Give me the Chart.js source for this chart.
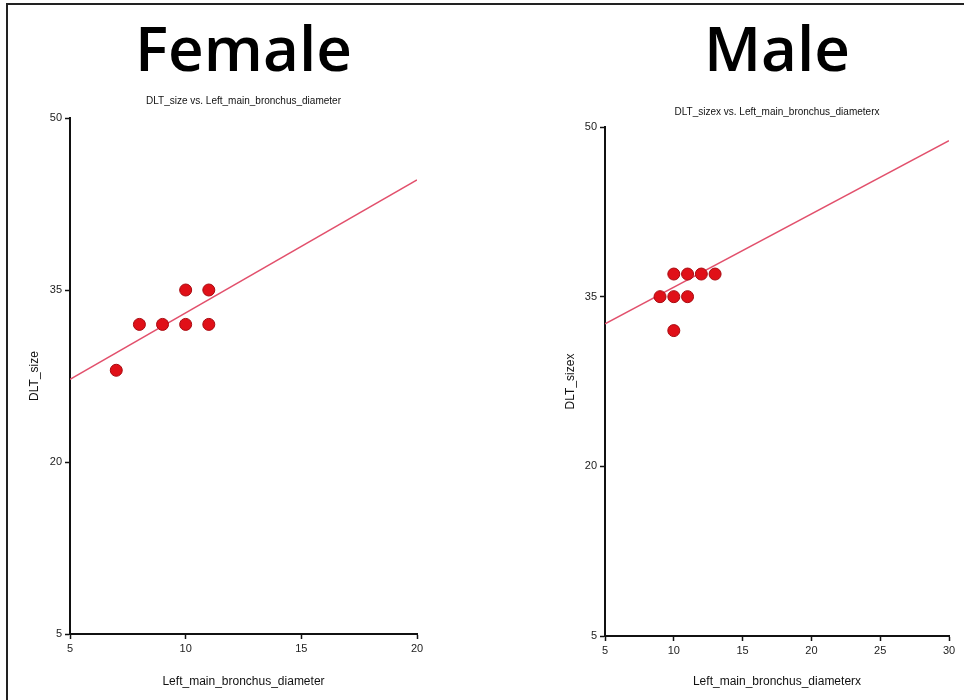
<!DOCTYPE html>
<html>
<head>
<meta charset="utf-8">
<script src="https://cdn.jsdelivr.net/npm/chart.js@4.4.0/dist/chart.umd.min.js"></script>
<style>
    body { margin: 0; background: #fff; }
    #frame { position: absolute; left: 6px; top: 3px; width: 960px; height: 700px; border-top: 2px solid #222; border-left: 2px solid #222; }
    #female { position: absolute; left: 0; top: 0; }
    #male { position: absolute; left: 484px; top: 0; }
</style>
</head>
<body>
<div id="frame"></div>
<canvas id="female" width="480" height="700"></canvas>
<canvas id="male" width="480" height="700"></canvas>
<script>
// Female data
const femaleX = [7, 8, 9, 10, 10, 11, 11];
const femaleY = [28, 32, 32, 32, 35, 32, 35];
const femaleFitX = [5, 20];
const femaleFitY = [27.2, 44.6];

// Male data
const maleX = [9, 10, 11, 10, 11, 12, 13, 10];
const maleY = [35, 35, 35, 37, 37, 37, 37, 32];
const maleFitX = [5, 30];
const maleFitY = [32.6, 48.8];

const yTicks = [5, 20, 35, 50];

function toPoints(xs, ys) {
    return xs.map((x, i) => ({ x: x, y: ys[i] }));
}

const tickFont = { family: "'Liberation Sans Narrow', 'Liberation Sans', Arial", size: 11 };

function makeChart(el, o) {
    return new Chart(el, {
        type: 'scatter',
        data: {
            datasets: [{
                    label: 'data',
                    data: toPoints(o.x, o.y),
                    backgroundColor: '#e01018',
                    borderColor: '#a80a10',
                    borderWidth: 1,
                    pointRadius: 6,
                    order: 1
                },
                {
                    label: 'fit',
                    data: toPoints(o.fitX, o.fitY),
                    showLine: true,
                    pointRadius: 0,
                    borderColor: '#e2506c',
                    borderWidth: 1.5,
                    order: 2
                },
            ]
        },
        options: {
            responsive: false,
            animation: false,
            layout: { padding: o.padding },
            plugins: {
                legend: { display: false },
                tooltip: { enabled: false },
                title: {
                    display: true,
                    text: o.title,
                    fullSize: false,
                    color: '#000',
                    font: { family: "'Open Sans'", size: 62, weight: '600', lineHeight: 1 },
                    padding: { top: 22, bottom: o.titleGap }
                },
                subtitle: {
                    display: true,
                    text: o.subtitle,
                    fullSize: false,
                    color: '#111',
                    font: { family: "'Liberation Sans Narrow', Arial", size: 10, lineHeight: 1.2 },
                    padding: { top: 0, bottom: o.subGap }
                }
            },
            scales: {
                x: {
                    type: 'linear',
                    min: 5,
                    max: o.xMax,
                    afterFit: s => { s.height = o.xHeight; },
                    ticks: { stepSize: 5, color: '#222', font: tickFont, padding: 3 },
                    grid: { drawOnChartArea: false, tickLength: 5, tickColor: '#111', tickWidth: 1.5 },
                    border: { color: '#111', width: 2 },
                    title: {
                        display: true,
                        text: o.xTitle,
                        color: '#111',
                        font: { family: "'Liberation Sans Narrow', Arial", size: 12 },
                        padding: { bottom: 11 }
                    }
                },
                y: {
                    type: 'linear',
                    min: 5,
                    max: 50,
                    afterFit: s => { s.width = o.yWidth; },
                    afterBuildTicks: s => { s.ticks = yTicks.map(v => ({ value: v })); },
                    ticks: { color: '#222', font: tickFont, padding: 3 },
                    grid: { drawOnChartArea: false, tickLength: 5, tickColor: '#111', tickWidth: 1.5 },
                    border: { color: '#111', width: 2 },
                    title: {
                        display: true,
                        text: o.yTitle,
                        color: '#111',
                        font: { family: "'Liberation Sans', Arial", size: 12 },
                        padding: { top: o.yTitlePad }
                    }
                }
            }
        }
    });
}

const femaleChart = makeChart(document.getElementById('female'), {
    x: femaleX, y: femaleY, fitX: femaleFitX, fitY: femaleFitY,
    title: 'Female',
    subtitle: 'DLT_size vs. Left_main_bronchus_diameter',
    xTitle: 'Left_main_bronchus_diameter',
    yTitle: 'DLT_size',
    xMax: 20,
    padding: { left: 20, right: 63, top: 0, bottom: 0 },
    titleGap: 11,
    subGap: 11,
    xHeight: 66,
    yWidth: 50,
    yTitlePad: 7
});

const maleChart = makeChart(document.getElementById('male'), {
    x: maleX, y: maleY, fitX: maleFitX, fitY: maleFitY,
    title: 'Male',
    subtitle: 'DLT_sizex vs. Left_main_bronchus_diameterx',
    xTitle: 'Left_main_bronchus_diameterx',
    yTitle: 'DLT_sizex',
    xMax: 30,
    padding: { left: 70, right: 15, top: 0, bottom: 0 },
    titleGap: 22,
    subGap: 9,
    xHeight: 64,
    yWidth: 51,
    yTitlePad: 9
});
</script>
</body>
</html>
